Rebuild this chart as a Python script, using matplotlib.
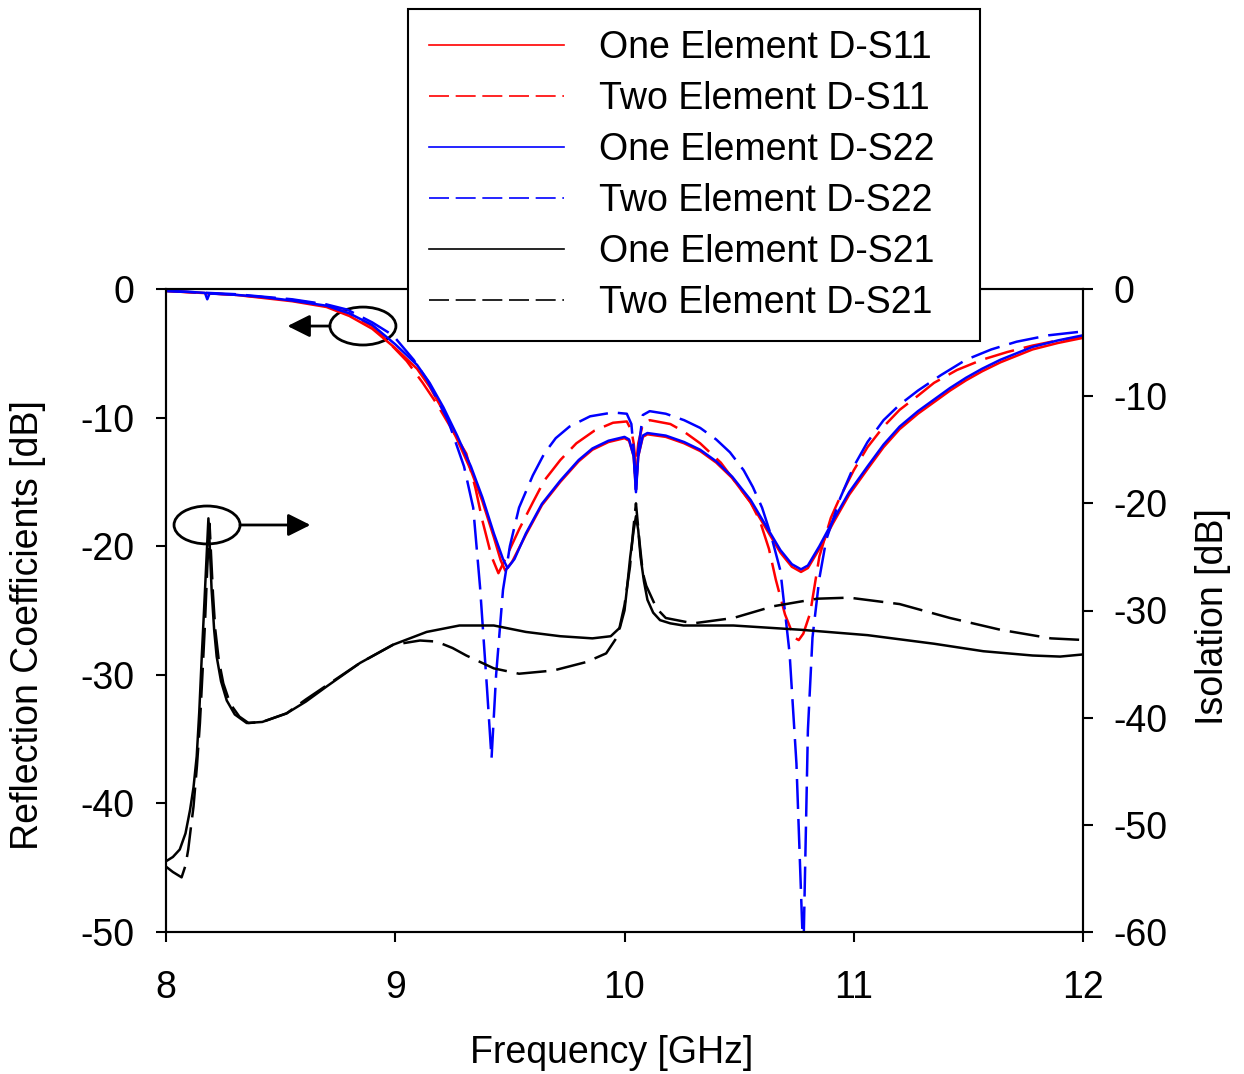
import numpy as np
import matplotlib.pyplot as plt
from matplotlib.patches import Ellipse

plt.rcParams['font.family'] = ['Liberation Sans', 'DejaVu Sans']
plt.rcParams['axes.unicode_minus'] = False

# ---- data (GHz, dB) ----
# One element D-S22 (blue solid), left axis
f_one_s22 = [8.00, 8.10, 8.17, 8.18, 8.19, 8.30, 8.41, 8.55, 8.70, 8.80, 8.90, 9.00,
             9.095, 9.15, 9.21, 9.27, 9.33, 9.38, 9.43, 9.47, 9.49, 9.52, 9.57, 9.64,
             9.72, 9.80, 9.86, 9.93, 10.00, 10.02, 10.04, 10.05, 10.06, 10.08, 10.10,
             10.18, 10.26, 10.33, 10.40, 10.47, 10.55, 10.62, 10.68, 10.73, 10.77, 10.80,
             10.85, 10.91, 10.98, 11.06, 11.13, 11.20, 11.28, 11.35, 11.42, 11.49, 11.56,
             11.64, 11.71, 11.78, 11.89, 12.00]
one_s22 = [-0.15, -0.22, -0.3, -0.8, -0.35, -0.45, -0.6, -0.9, -1.3, -1.9, -2.8, -4.3,
           -5.9, -7.3, -9.2, -11.4, -13.8, -16.2, -19.0, -21.0, -21.7, -21.0, -19.0, -16.7,
           -14.9, -13.3, -12.4, -11.8, -11.5, -11.7, -13.0, -15.8, -13.0, -11.4, -11.2,
           -11.4, -11.9, -12.5, -13.4, -14.6, -16.4, -18.5, -20.3, -21.4, -21.8, -21.5,
           -20.0, -18.0, -15.8, -13.8, -12.1, -10.7, -9.5, -8.6, -7.7, -6.9, -6.2,
           -5.5, -5.0, -4.5, -4.0, -3.6]

# One element D-S11 (red solid), left axis
f_one_s11 = [8.00, 8.30, 8.55, 8.70, 8.80, 8.90, 9.00, 9.095, 9.15, 9.21, 9.27, 9.33,
             9.38, 9.43, 9.46, 9.48, 9.51, 9.57, 9.64, 9.72, 9.80, 9.86, 9.93, 10.00,
             10.02, 10.04, 10.05, 10.06, 10.08, 10.10, 10.18, 10.26, 10.33, 10.40, 10.47,
             10.55, 10.62, 10.68, 10.73, 10.77, 10.80, 10.85, 10.91, 10.98, 11.06, 11.13,
             11.20, 11.28, 11.35, 11.42, 11.49, 11.56, 11.64, 11.71, 11.78, 11.89, 12.00]
one_s11 = [-0.15, -0.45, -0.95, -1.4, -2.1, -3.1, -4.6, -6.2, -7.6, -9.5, -11.7, -14.1,
           -16.5, -19.3, -21.1, -21.9, -21.2, -19.1, -16.8, -15.0, -13.4, -12.5, -11.9, -11.6,
           -11.8, -13.0, -15.6, -13.0, -11.5, -11.3, -11.5, -12.0, -12.6, -13.5, -14.7,
           -16.6, -18.7, -20.5, -21.6, -22.0, -21.7, -20.2, -18.2, -16.0, -14.0, -12.3,
           -10.9, -9.7, -8.8, -7.9, -7.1, -6.4, -5.7, -5.2, -4.7, -4.2, -3.8]

# Two element D-S22 (blue dashed), left axis
f_two_s22 = [8.00, 8.30, 8.55, 8.70, 8.79, 8.90, 8.99, 9.08, 9.14, 9.23, 9.30, 9.34,
             9.37, 9.40, 9.42, 9.44, 9.47, 9.50, 9.54, 9.60, 9.65, 9.70, 9.76, 9.85,
             9.95, 10.01, 10.03, 10.04, 10.05, 10.06, 10.08, 10.11, 10.18, 10.26, 10.33,
             10.40, 10.46, 10.52, 10.56, 10.60, 10.64, 10.68, 10.72, 10.75, 10.78, 10.80,
             10.82, 10.85, 10.88, 10.94, 11.00, 11.06, 11.13, 11.20, 11.28, 11.38, 11.49,
             11.60, 11.71, 11.85, 12.00]
two_s22 = [-0.15, -0.4, -0.8, -1.2, -1.6, -2.6, -3.6, -5.5, -7.1, -10.2, -13.8, -17.0,
           -23.2, -31.0, -36.5, -30.0, -23.4, -20.0, -17.0, -14.5, -12.8, -11.6, -10.7, -9.9,
           -9.6, -9.7, -10.5, -12.5, -15.6, -12.5, -9.8, -9.5, -9.7, -10.2, -10.8,
           -11.7, -12.7, -14.1, -15.4, -17.0, -19.2, -21.9, -28.3, -36.9, -52.0, -34.3,
           -27.1, -22.5, -19.5, -16.3, -13.8, -11.9, -10.2, -9.0, -7.9, -6.7, -5.5,
           -4.7, -4.1, -3.6, -3.3]

# Two element D-S11 (red dashed), left axis
f_two_s11 = [8.00, 8.30, 8.55, 8.70, 8.80, 8.90, 8.98, 9.05, 9.12, 9.18, 9.25, 9.31,
             9.35, 9.38, 9.42, 9.45, 9.48, 9.54, 9.60, 9.65, 9.72, 9.79, 9.87, 9.95,
             10.01, 10.03, 10.04, 10.05, 10.06, 10.08, 10.11, 10.20, 10.26, 10.33, 10.42,
             10.50, 10.55, 10.59, 10.63, 10.66, 10.70, 10.74, 10.76, 10.78, 10.81, 10.85,
             10.90, 10.94, 11.00, 11.06, 11.13, 11.20, 11.28, 11.35, 11.45, 11.56, 11.67,
             11.78, 11.89, 12.00]
two_s11 = [-0.15, -0.45, -0.85, -1.25, -1.9, -2.9, -4.3, -5.6, -7.3, -8.9, -11.0, -12.8,
           -15.5, -18.0, -20.8, -22.1, -21.0, -18.7, -16.6, -14.9, -13.3, -12.0, -11.0, -10.4,
           -10.3, -11.0, -12.0, -13.8, -12.0, -10.5, -10.2, -10.5, -11.1, -12.0, -13.5,
           -15.4, -16.6, -18.0, -20.2, -22.6, -25.3, -27.1, -27.3, -26.8, -25.2, -20.8,
           -17.8, -16.2, -14.1, -12.3, -10.7, -9.4, -8.3, -7.3, -6.3, -5.5, -4.9,
           -4.4, -4.0, -3.7]

# One element D-S21 (black solid), right axis
f_one_s21 = [8.00, 8.03, 8.06, 8.085, 8.105, 8.12, 8.134, 8.145, 8.156, 8.167, 8.177,
             8.185, 8.192, 8.199, 8.21, 8.221, 8.24, 8.265, 8.30, 8.352, 8.42, 8.526,
             8.61, 8.70, 8.846, 8.99, 9.137, 9.28, 9.43, 9.57, 9.72, 9.86, 9.94, 9.98,
             10.00, 10.01, 10.025, 10.04, 10.05, 10.06, 10.07, 10.085, 10.10, 10.125,
             10.155, 10.20, 10.257, 10.475, 10.77, 11.06, 11.35, 11.565, 11.78, 11.90, 12.00]
one_s21 = [-53.4, -53.0, -52.3, -50.8, -48.6, -46.5, -43.6, -39.5, -34.3, -29.5, -25.0,
           -21.4, -24.5, -28.1, -31.8, -34.3, -36.6, -38.4, -39.7, -40.5, -40.4, -39.6,
           -38.5, -37.1, -34.9, -33.2, -32.0, -31.4, -31.4, -32.0, -32.4, -32.6, -32.4, -31.6,
           -30.0, -28.1, -25.0, -22.5, -21.2, -22.5, -25.0, -27.3, -29.0, -30.2,
           -30.9, -31.2, -31.4, -31.4, -31.8, -32.3, -33.1, -33.8, -34.2, -34.3, -34.1]

# Two element D-S21 (black dashed), right axis
f_two_s21 = [8.00, 8.03, 8.068, 8.085, 8.097, 8.11, 8.12, 8.135, 8.148, 8.16, 8.17,
             8.18, 8.19, 8.197, 8.205, 8.215, 8.23, 8.25, 8.28, 8.32, 8.36, 8.42, 8.526,
             8.61, 8.70, 8.846, 8.99, 9.05, 9.108, 9.18, 9.25, 9.31, 9.43, 9.54, 9.69,
             9.835, 9.92, 9.97, 10.00, 10.024, 10.038, 10.05, 10.065, 10.08, 10.095, 10.11,
             10.14, 10.18, 10.30, 10.475, 10.65, 10.84, 10.98, 11.20, 11.42, 11.64, 11.86, 12.00]
two_s21 = [-53.9, -54.4, -54.9, -53.8, -52.3, -50.0, -48.3, -44.5, -40.5, -35.5, -31.2,
           -26.0, -21.9, -25.0, -28.5, -31.8, -34.6, -36.8, -38.7, -39.9, -40.5, -40.4, -39.6,
           -38.3, -37.0, -34.9, -33.2, -33.0, -32.8, -32.9, -33.5, -34.2, -35.4, -35.9, -35.6,
           -34.8, -34.0, -32.4, -29.5, -25.9, -22.5, -20.0, -23.5, -26.5, -27.7, -28.4,
           -29.8, -30.7, -31.2, -30.7, -29.6, -28.9, -28.8, -29.4, -30.7, -31.8, -32.6, -32.75]

labels = ['One Element D-S11', 'Two Element D-S11', 'One Element D-S22',
          'Two Element D-S22', 'One Element D-S21', 'Two Element D-S21']

# ---- figure ----
fig = plt.figure(figsize=(12.44, 10.74), dpi=100)
ax = fig.add_axes([166/1244, 1-932/1074, 917/1244, 643/1074])
ax2 = ax.twinx()

lw = 1.8
dash = (12, 4)
l1, = ax.plot(f_one_s11, one_s11, color='red', lw=lw)
l2, = ax.plot(f_two_s11, two_s11, color='red', lw=lw, dashes=dash)
l3, = ax.plot(f_one_s22, one_s22, color='blue', lw=lw)
l4, = ax.plot(f_two_s22, two_s22, color='blue', lw=lw, dashes=dash)
l5, = ax2.plot(f_one_s21, one_s21, color='black', lw=lw)
l6, = ax2.plot(f_two_s21, two_s21, color='black', lw=lw, dashes=dash)

ax.set_xlim(8, 12)
ax.set_ylim(-50, 0)
ax2.set_ylim(-60, 0)
ax.set_xticks([8, 9, 10, 11, 12])
ax.set_yticks(np.arange(-50, 1, 10))
ax2.set_yticks(np.arange(-60, 1, 10))

for a in (ax, ax2):
    for s in a.spines.values():
        s.set_linewidth(1.5)
ax.tick_params(axis='both', direction='out', length=7, width=1.5, labelsize=27)
ax.tick_params(axis='y', pad=16)
ax.tick_params(axis='x', pad=20)
ax2.tick_params(axis='y', direction='out', length=7, width=1.5, labelsize=27, pad=15)

fig.text(612/1244, 1-1053/1074, 'Frequency [GHz]', fontsize=27, ha='center', va='center')
fig.text(28/1244, 1-625/1074, 'Reflection Coefficients [dB]', fontsize=27,
         rotation=90, ha='center', va='center')
fig.text(1213/1244, 1-617/1074, 'Isolation [dB]', fontsize=27,
         rotation=90, ha='center', va='center')

# ellipse + arrow markers pointing at the axes
ax.add_patch(Ellipse((8.859, -2.88), 0.288, 2.95, fill=False, lw=2, ec='black'))
ax.annotate('', xy=(8.53, -2.88), xytext=(8.715, -2.88),
            arrowprops=dict(arrowstyle='-|>', mutation_scale=34, lw=2, color='black',
                            shrinkA=0, shrinkB=0))
ax.add_patch(Ellipse((8.179, -18.35), 0.288, 2.95, fill=False, lw=2, ec='black'))
ax.annotate('', xy=(8.63, -18.35), xytext=(8.323, -18.35),
            arrowprops=dict(arrowstyle='-|>', mutation_scale=34, lw=2, color='black',
                            shrinkA=0, shrinkB=0))

leg = fig.legend([l1, l2, l3, l4, l5, l6], labels, loc='upper left', mode='expand',
                 bbox_to_anchor=(408/1244, 1-338/1074, 572/1244, 329/1074),
                 bbox_transform=fig.transFigure,
                 borderaxespad=0, fancybox=False, framealpha=1, edgecolor='black',
                 fontsize=27, handlelength=3.6, handletextpad=0.95, labelspacing=0.4,
                 borderpad=0.55)
leg.get_frame().set_linewidth(1.5)
for h in leg.get_lines():
    h.set_linewidth(1.2)

fig.savefig('out.png', dpi=100)
